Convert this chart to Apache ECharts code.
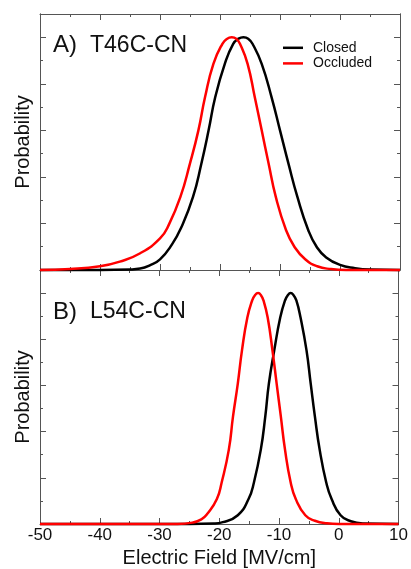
<!DOCTYPE html>
<html><head><meta charset="utf-8">
<script src="https://cdn.jsdelivr.net/npm/echarts@6/dist/echarts.min.js"></script>
<style>html,body{margin:0;padding:0;background:#fff}#c{width:411px;height:569px}</style>
</head><body><div id="c"></div>
<script>
const xTicks = [-50, -40, -30, -20, -10, 0, 10];
const seriesNames = ['Closed', 'Occluded'];
const panelLetters = ['A)', 'B)'];
const panelNames = ['T46C-CN', 'L54C-CN'];
const xTitle = 'Electric Field [MV/cm]';
const yTitle = 'Probability';

// Panel A (T46C-CN)
const topClosed = [[-50,0],[-40,0],[-35,0.01],[-33.3,0.03],[-31.7,0.1],[-30,0.23],[-28,0.55],[-26.5,0.9],[-24.5,1.57],[-23.1,2.29],[-21.9,3.0],[-20.8,3.71],[-19.2,4.43],[-17.8,4.86],[-16.9,4.97],[-16.1,5.0],[-15.3,4.97],[-14.5,4.84],[-13.05,4.43],[-11.4,3.71],[-10.0,3.0],[-8.6,2.29],[-7.1,1.57],[-5.3,0.86],[-3.9,0.5],[-2.3,0.27],[0,0.11],[2.5,0.04],[5,0.01],[10,0]];
const topOccluded = [[-50,0],[-45,0.02],[-40,0.08],[-36.7,0.18],[-33.3,0.36],[-30,0.68],[-28.5,0.98],[-26.6,1.57],[-25,2.29],[-23.6,3.0],[-22.5,3.71],[-21.1,4.43],[-19.6,4.86],[-18.8,4.97],[-18.05,5.0],[-17.3,4.97],[-16.6,4.84],[-15.4,4.43],[-14.2,3.71],[-13.05,3.0],[-11.9,2.29],[-10.7,1.57],[-9.0,0.86],[-7.6,0.5],[-5.8,0.23],[-3.8,0.08],[-1.5,0.02],[1,0],[10,0]];
// Panel B (L54C-CN)
const botClosed = [[-50,0],[-25,0],[-21,0.01],[-19.4,0.04],[-16.9,0.19],[-15.1,0.54],[-14.2,0.9],[-13.05,1.61],[-12.3,2.33],[-11.7,3.04],[-10.8,3.76],[-9.8,4.47],[-9.0,4.84],[-8.5,4.96],[-8.06,5.0],[-7.6,4.96],[-7.1,4.84],[-6.4,4.47],[-5.4,3.76],[-4.7,3.04],[-4.0,2.33],[-3.2,1.61],[-2.1,0.9],[-1.2,0.54],[0.3,0.19],[2,0.06],[4,0.01],[10,0]];
const botOccluded = [[-50,0],[-27,0],[-24.5,0.03],[-23,0.1],[-22,0.22],[-20.4,0.54],[-19.6,0.9],[-18.4,1.61],[-17.7,2.33],[-16.9,3.04],[-16.2,3.76],[-15.3,4.47],[-14.5,4.84],[-14.0,4.96],[-13.5,5.0],[-13.05,4.96],[-12.6,4.84],[-11.9,4.47],[-11.1,3.76],[-10.4,3.04],[-9.7,2.33],[-9.0,1.61],[-8.05,0.9],[-7.2,0.54],[-5.6,0.19],[-4,0.07],[-2,0.015],[0,0],[10,0]];

const FONT = "'Liberation Sans', Arial, Helvetica, sans-serif";
const AX = '#555555';

function xAx(grid, pos, labels) {
  return {
    type: 'value', gridIndex: grid, position: pos, min: xTicks[0], max: xTicks[xTicks.length - 1], interval: 10,
    axisLine: { show: true, onZero: false, lineStyle: { color: AX, width: 1 } },
    axisTick: { show: true, inside: true, length: 6, lineStyle: { color: AX } },
    minorTick: { show: true, splitNumber: 2, length: 3, lineStyle: { color: AX } },
    splitLine: { show: false }, minorSplitLine: { show: false },
    axisLabel: { show: labels, fontSize: 17, color: '#111', margin: 3, fontFamily: FONT },
    name: labels ? xTitle : '', nameLocation: 'middle', nameGap: 24,
    nameTextStyle: { fontSize: 20, color: '#111', fontFamily: FONT }
  };
}
function yAx(grid, pos, major, named) {
  return {
    type: 'value', gridIndex: grid, position: pos, min: 0, max: 5.5, interval: major ? 1 : 0.5,
    axisLine: { show: true, onZero: false, lineStyle: { color: AX, width: 1 } },
    axisTick: { show: true, inside: true, length: major ? 6 : 3, lineStyle: { color: AX } },
    splitLine: { show: false },
    axisLabel: { show: false },
    name: named ? yTitle : '', nameLocation: 'middle', nameRotate: 90, nameGap: 7,
    nameTextStyle: { fontSize: 20, color: '#111', fontFamily: FONT }
  };
}

const chart = echarts.init(document.getElementById('c'), null, { renderer: 'canvas' });
const lineSeries = (name, data, xi, yi, color) => ({
  name, type: 'line', data, xAxisIndex: xi, yAxisIndex: yi, symbol: 'none', showSymbol: false, smooth: 0.5,
  clip: false, lineStyle: { color, width: 2.5 }, itemStyle: { color }
});
chart.setOption({
  animation: false,
  backgroundColor: '#fff',
  grid: [
    { left: 40, right: 11, top: 14, height: 256 },
    { left: 40, right: 11, top: 270, height: 257 }
  ],
  xAxis: [xAx(0, 'bottom', false), xAx(0, 'top', false), xAx(1, 'bottom', true), xAx(1, 'top', false)],
  yAxis: [
    yAx(0, 'left', true, true), yAx(0, 'left', false, false), yAx(0, 'right', true, false), yAx(0, 'right', false, false),
    yAx(1, 'left', true, true), yAx(1, 'left', false, false), yAx(1, 'right', true, false), yAx(1, 'right', false, false)
  ],
  legend: {
    data: seriesNames.map(n => ({ name: n, icon: 'rect' })), orient: 'vertical', left: 283, top: 40,
    itemWidth: 20, itemHeight: 2.5, itemGap: 0,
    padding: 0, selectedMode: false,
    textStyle: { fontSize: 14, color: '#111', fontFamily: FONT, padding: [0, 0, 0, 5], lineHeight: 15.6 }
  },
  graphic: [0, 1].map(i => ({
    type: 'text', x: 53, y: i === 0 ? 45.5 : 312,
    style: {
      text: '{p|' + panelLetters[i] + '}{c|' + panelNames[i] + '}',
      verticalAlign: 'middle', fill: '#111',
      rich: {
        p: { fontSize: 24, fontFamily: FONT, width: 37, fill: '#111' },
        c: { fontSize: 23, fontFamily: FONT, fill: '#111' }
      }
    }
  })),
  series: [
    lineSeries(seriesNames[0], topClosed, 0, 0, '#000000'),
    lineSeries(seriesNames[1], topOccluded, 0, 0, '#ff0000'),
    lineSeries(seriesNames[0], botClosed, 2, 4, '#000000'),
    lineSeries(seriesNames[1], botOccluded, 2, 4, '#ff0000')
  ]
});
</script></body></html>
